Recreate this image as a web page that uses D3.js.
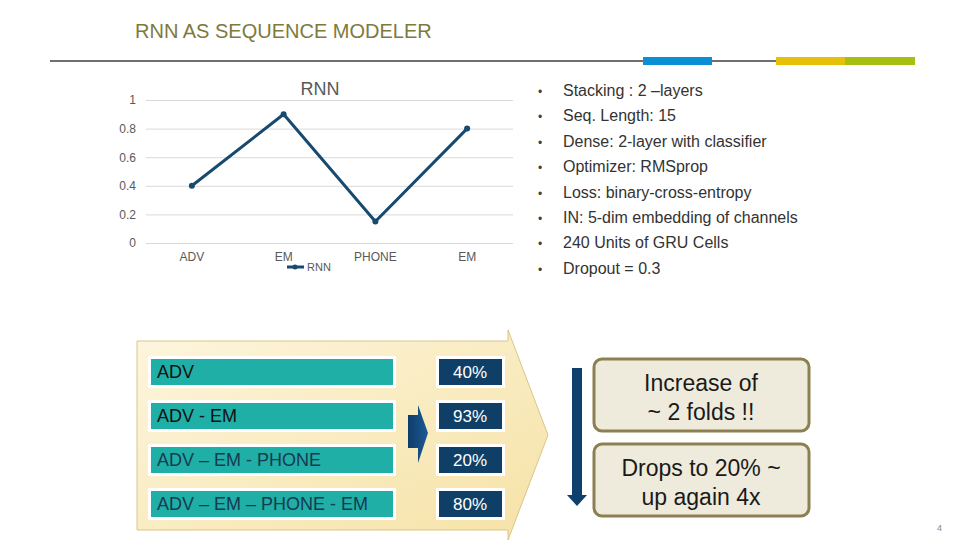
<!DOCTYPE html>
<html>
<head>
<meta charset="utf-8">
<script src="https://cdn.jsdelivr.net/npm/d3@7"></script>
<style>
  body { margin:0; background:#fff; }
  svg { font-family:"Liberation Sans", Arial, sans-serif; display:block; }
</style>
</head>
<body>
<div class="main__area"></div>
<script>
// chart data
const categories=["ADV","EM","PHONE","EM"];
const rnnValues=[0.4, 0.9, 0.15, 0.8];
const yTicks=[0, 0.2, 0.4, 0.6, 0.8, 1];
const seriesName="RNN";

// settings list
const bullets=[
    "Stacking : 2 \u2013layers",
    "Seq. Length: 15",
    "Dense: 2-layer with classifier",
    "Optimizer: RMSprop",
    "Loss: binary-cross-entropy",
    "IN: 5-dim embedding of channels",
    "240 Units of GRU Cells",
    "Dropout = 0.3"
];

// sequence table
const sequences=["ADV","ADV - EM","ADV \u2013 EM - PHONE","ADV \u2013 EM \u2013 PHONE - EM"];
const seqColors=["#111","#111","#163a52","#163a52"];
const percents=[40, 93, 20, 80];

const notes=[["Increase of","~ 2 folds !!"],["Drops to 20% ~","up again 4x"]];

const width=960;
const height=540;

const svg=d3.select(".main__area").append("svg")
    .attr("width", width)
    .attr("height", height);

const defs=svg.append("defs");
const panelGrad=defs.append("linearGradient").attr("id","panelGrad")
    .attr("x1","0").attr("y1","0").attr("x2","1").attr("y2","1");
panelGrad.append("stop").attr("offset","0").attr("stop-color","#fdf6de");
panelGrad.append("stop").attr("offset","1").attr("stop-color","#f6e2a6");
const navyGrad=defs.append("linearGradient").attr("id","navyGrad")
    .attr("x1","0").attr("y1","0").attr("x2","1").attr("y2","0");
navyGrad.append("stop").attr("offset","0").attr("stop-color","#0d3d6b");
navyGrad.append("stop").attr("offset","1").attr("stop-color","#1d5a94");

// header
svg.append("text").attr("x",135).attr("y",38)
    .attr("font-size",20).attr("fill","#7d7a3e")
    .text("RNN AS SEQUENCE MODELER");
svg.append("line").attr("x1",50).attr("x2",915).attr("y1",61).attr("y2",61)
    .attr("stroke","#6f6f6f").attr("stroke-width",2);
[[643,712,"#0a8fd4"],[776,845,"#e6c10a"],[845,915,"#a8bf12"]].forEach(([a,b,c])=>{
    svg.append("rect").attr("x",a).attr("y",57).attr("width",b-a).attr("height",8).attr("fill",c);
});

// line chart
const x=d3.scaleBand().domain(d3.range(categories.length)).range([146,513]);
const y=d3.scaleLinear().domain([0,1]).range([243,100]);

const chartG=svg.append("g");
chartG.append("g")
    .attr("transform","translate(146,0)")
    .call(d3.axisLeft(y).tickValues(yTicks).tickSize(-367).tickFormat(d=>d3.format("~g")(d)).tickPadding(10))
    .call(g=>g.select(".domain").remove())
    .call(g=>g.selectAll("line").attr("stroke","#d9d9d9"))
    .call(g=>g.selectAll("text").attr("fill","#595959").attr("font-size",12)
        .attr("font-family","Liberation Sans, Arial, sans-serif"));

chartG.append("g")
    .attr("transform","translate(0,243)")
    .call(d3.axisBottom(x).tickSize(0).tickPadding(9).tickFormat(i=>categories[i]))
    .call(g=>g.select(".domain").remove())
    .call(g=>g.selectAll("text").attr("fill","#595959").attr("font-size",12)
        .attr("font-family","Liberation Sans, Arial, sans-serif"));

const line=d3.line().x((d,i)=>x(i)+x.bandwidth()/2).y(d=>y(d));
chartG.append("path").datum(rnnValues).attr("d",line)
    .attr("fill","none").attr("stroke","#174a6e").attr("stroke-width",3)
    .attr("stroke-linejoin","round");
chartG.selectAll("circle.pt").data(rnnValues).join("circle")
    .attr("class","pt")
    .attr("cx",(d,i)=>x(i)+x.bandwidth()/2).attr("cy",d=>y(d)).attr("r",3)
    .attr("fill","#174a6e");

chartG.append("text").attr("x",320).attr("y",95).attr("text-anchor","middle")
    .attr("font-size",18).attr("fill","#595959").text(seriesName);
chartG.append("line").attr("x1",287).attr("x2",304).attr("y1",267).attr("y2",267)
    .attr("stroke","#174a6e").attr("stroke-width",3);
chartG.append("circle").attr("cx",295).attr("cy",267).attr("r",2.5).attr("fill","#174a6e");
chartG.append("text").attr("x",307).attr("y",271).attr("font-size",11)
    .attr("fill","#595959").text(seriesName);

// bullets
const bulletG=svg.append("g");
bullets.forEach((b,i)=>{
    const by=96+i*25.4;
    bulletG.append("text").attr("x",538).attr("y",by).attr("font-size",12)
        .attr("fill","#404040").text("\u2022");
    bulletG.append("text").attr("x",563).attr("y",by).attr("font-size",16)
        .attr("fill","#333").text(b);
});

// big arrow panel
svg.append("path")
    .attr("d","M137,341 L508,341 L508,330 L548,435 L508,540 L508,530 L137,530 Z")
    .attr("fill","url(#panelGrad)").attr("stroke","#d9c58a").attr("stroke-width",1);

sequences.forEach((s,i)=>{
    const ry=356+i*44;
    svg.append("rect").attr("x",148).attr("y",ry).attr("width",248).attr("height",32)
        .attr("fill","#fff");
    svg.append("rect").attr("x",151).attr("y",ry+3).attr("width",242).attr("height",26)
        .attr("fill","#1fafa6");
    svg.append("text").attr("x",157).attr("y",ry+22).attr("font-size",18)
        .attr("fill",seqColors[i]).text(s);

    svg.append("rect").attr("x",436).attr("y",ry).attr("width",69).attr("height",32)
        .attr("fill","#fff");
    svg.append("rect").attr("x",439).attr("y",ry+3).attr("width",63).attr("height",26)
        .attr("fill","#0f3f66");
    svg.append("text").attr("x",470).attr("y",ry+22).attr("text-anchor","middle")
        .attr("font-size",17).attr("fill","#fff").text(percents[i]+"%");
});

// small arrow
svg.append("path")
    .attr("d","M408,415 L418,415 L418,405 L428,433 L418,463 L418,448 L408,448 Z")
    .attr("fill","url(#navyGrad)");

// down arrow
svg.append("path")
    .attr("d","M572,368 L582,368 L582,495 L587,495 L577,506 L567,495 L572,495 Z")
    .attr("fill","#0f3f6b");

// note boxes
notes.forEach((lines,i)=>{
    const ny=359+i*85;
    svg.append("rect").attr("x",594).attr("y",ny).attr("width",215).attr("height",72)
        .attr("rx",8).attr("fill","#eeeadc").attr("stroke","#8c8050").attr("stroke-width",3);
    lines.forEach((t,j)=>{
        svg.append("text").attr("x",701).attr("y",ny+32+j*29).attr("text-anchor","middle")
            .attr("font-size",23).attr("fill","#1a1a1a").text(t);
    });
});

svg.append("text").attr("x",937).attr("y",531).attr("font-size",9)
    .attr("fill","#888").text("4");
</script>
</body>
</html>
